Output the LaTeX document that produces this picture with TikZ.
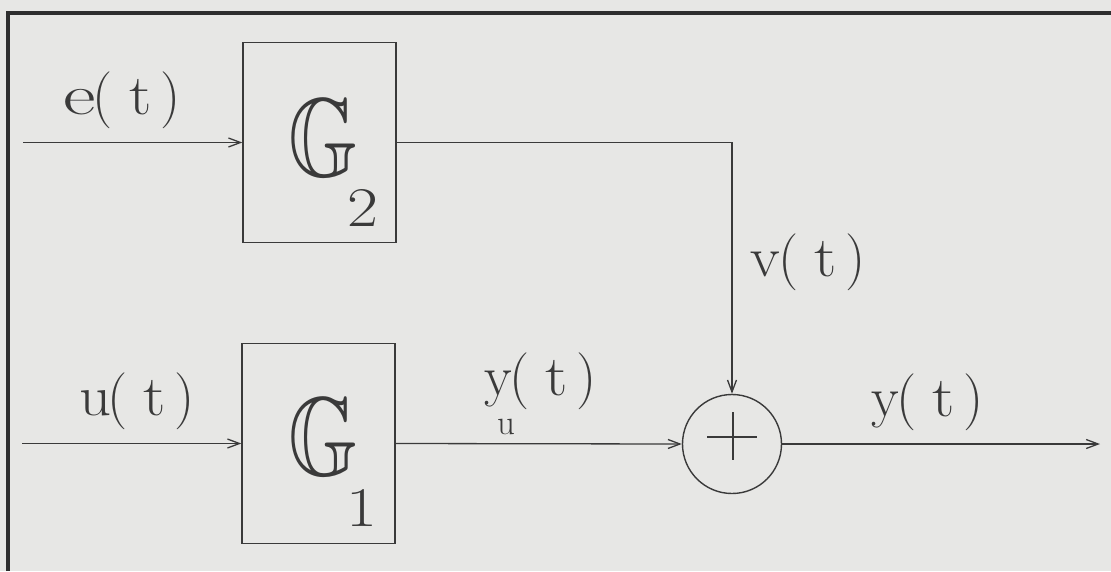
\documentclass[tikz,border=0pt]{standalone}
\usepackage{amssymb}
\usepackage{graphicx}
\usetikzlibrary{arrows.meta,calc}
\definecolor{ink}{RGB}{58,58,58}
\definecolor{paper}{RGB}{231,231,229}
\newcommand\wlt[2][1.1]{\scalebox{#1}[1]{#2}}
\newcommand\sig[2]{#1(\kern16pt\wlt{t}\kern9pt)}
\tikzset{
 lbl/.style={inner sep=0pt, text=ink, font=\fontsize{57}{60}\selectfont},
 blk/.style={draw=ink, line width=1.4pt, minimum width=153pt, minimum height=200pt, inner sep=0pt},
 sumnode/.style={circle, draw=ink, line width=1.4pt, minimum size=99pt, inner sep=0pt},
 sigline/.style={draw=ink, line width=1.3pt, -{Straight Barb[length=12pt,width=9pt]}},
 frameline/.style={draw=ink!80!black, line width=4pt},
 plusline/.style={draw=ink, line width=1.3pt},
 bigG/.style={inner sep=0pt, text=ink, font=\fontsize{112}{120}\selectfont},
 subidx/.style={inner sep=0pt, text=ink, font=\fontsize{56}{60}\selectfont},
 subu/.style={inner sep=0pt, text=ink, font=\fontsize{35}{40}\selectfont},
}
\begin{document}
\begin{tikzpicture}[x=1pt,y=-1pt]
\fill[paper] (0,0) rectangle (1111,571);
\useasboundingbox (0,0) rectangle (1111,571);
% frame
\draw[frameline] (7.5,571) -- (7.5,13) -- (1111,13);
% blocks
\node[blk] (G2) at (319.5,142.5) {};
\node[blk] (G1) at (318.5,443.5) {};
\node[sumnode] (sum) at (732,444) {};
\draw[plusline] ($(sum.center)+(-25,-7)$) -- ($(sum.center)+(25,-7)$);
\draw[plusline] ($(sum.center)+(1,-32)$) -- ($(sum.center)+(1,16)$);
% block symbols
\node[bigG] (g2sym) at (323,138) {\scalebox{0.8}[1]{$\mathbb{G}$}};
\node[subidx] (g2idx) at (363,208) {\wlt[1.2]{2}};
\node[bigG] (g1sym) at (323,437) {\scalebox{0.8}[1]{$\mathbb{G}$}};
\node[subidx] (g1idx) at (362,508) {\wlt[1.2]{1}};
% endpoints
\coordinate (in2) at (23,142.5);
\coordinate (in1) at (22,443.5);
\coordinate (out) at (1100,444);
% connectors
\draw[sigline] (in2) -- (G2.west);
\draw[sigline] (in1) -- (G1.west);
\draw[sigline] (G2.east) -| (sum.north);
\draw[sigline] (G1.east) -- (sum.west);
\draw[sigline] (sum.east) -- (out);
% labels
\node[lbl] (le) at (122,100) {\sig{\wlt[1.4]{e}\kern-3pt}{}};
\node[lbl] (lu) at (137,401) {\sig{\wlt[1.1]{u}\kern-4pt}{}};
\node[lbl] (lv) at (808,262) {\sig{\wlt[1.07]{v}\kern-2pt}{}};
\node[lbl] (lyu) at (541,381) {\sig{\wlt[1.0]{y}\kern-3pt}{}};
\node[subu] (lyusub) at (506,427) {u};
\node[lbl] (ly) at (928,402) {\sig{\wlt[1.0]{y}\kern-3pt}{}};
\end{tikzpicture}
\end{document}
